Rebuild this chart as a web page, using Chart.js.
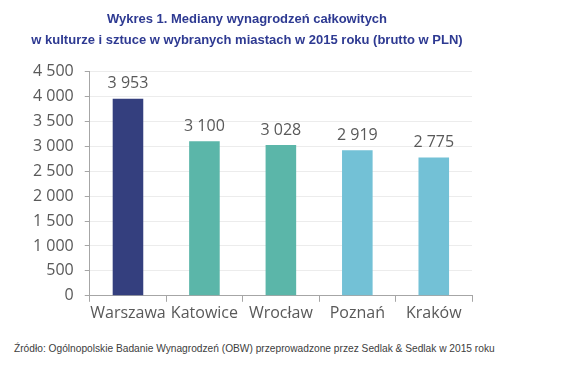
<!DOCTYPE html>
<html>
<head>
<meta charset="utf-8">
<script src="https://cdn.jsdelivr.net/npm/chart.js@4"></script>
<style>
  body { margin: 0; background: #fff; }
  #wrap { position: relative; width: 566px; height: 374px; }
  #source {
    position: absolute; left: 14px; top: 343px;
    font: 10.2px "Liberation Sans", Arial, sans-serif; color: #404040;
    white-space: nowrap;
  }
</style>
</head>
<body>
<div id="wrap">
  <canvas id="chart" width="566" height="334"></canvas>
  <div id="source">Źródło: Ogólnopolskie Badanie Wynagrodzeń (OBW) przeprowadzone przez Sedlak &amp; Sedlak w 2015 roku</div>
</div>
<script>
const cities = ['Warszawa', 'Katowice', 'Wrocław', 'Poznań', 'Kraków'];
const medians = [3953, 3100, 3028, 2919, 2775];
const barColors = ['#343f7e', '#5bb6a9', '#5bb6a9', '#73c1d6', '#73c1d6'];
const titleLines = ['Wykres 1. Mediany wynagrodzeń całkowitych', 'w kulturze i sztuce w wybranych miastach w 2015 roku (brutto w PLN)'];

const tickFont = { family: '"Open Sans", sans-serif', size: 16 };

// liczba z odstępem tysięcy: 4 500
const fmt = v => String(v).replace(/\B(?=(\d{3})+(?!\d))/g, ' ');

// etykiety wartości nad słupkami
const valueLabels = {
    id: 'valueLabels',
    afterDatasetsDraw(chart) {
        const ctx = chart.ctx;
        const meta = chart.getDatasetMeta(0);
        ctx.save();
        ctx.font = '16px "Open Sans", sans-serif';
        ctx.fillStyle = '#595959';
        ctx.textAlign = 'center';
        ctx.textBaseline = 'bottom';
        meta.data.forEach((bar, i) => {
            ctx.fillText(fmt(chart.data.datasets[0].data[i]), bar.x, bar.y - 7);
        });
        ctx.restore();
    }
};

new Chart(document.getElementById('chart'), {
    type: 'bar',
    data: {
        labels: cities,
        datasets: [{
            data: medians,
            backgroundColor: barColors,
            barPercentage: 0.4,
            categoryPercentage: 1
        }]
    },
    options: {
        responsive: false,
        animation: false,
        layout: { padding: { left: 22, right: 94, top: 0, bottom: 9 } },
        scales: {
            x: {
                offset: true,
                grid: { offset: true, drawOnChartArea: false, tickLength: 6, color: '#a6a6a6' },
                border: { color: '#a6a6a6' },
                ticks: {
                    color: '#595959', font: { family: '"Open Sans", sans-serif', size: 16 },
                    padding: 2, maxRotation: 0, autoSkip: false
                }
            },
            y: {
                min: 0,
                max: 4500,
                grid: { color: '#ececec', tickColor: '#a6a6a6', tickLength: 5 },
                border: { color: '#a6a6a6' },
                ticks: { stepSize: 500, color: '#595959', font: tickFont, padding: 11, callback: v => fmt(v) }
            }
        },
        plugins: {
            legend: { display: false },
            tooltip: { enabled: false },
            title: {
                display: true,
                text: titleLines,
                color: '#2e3a92',
                font: { family: '"Liberation Sans", Arial, sans-serif', size: 13, weight: 'bold', lineHeight: 1.6 },
                padding: { top: 9, bottom: 21 }
            }
        }
    },
    plugins: [valueLabels]
});
</script>
</body>
</html>
